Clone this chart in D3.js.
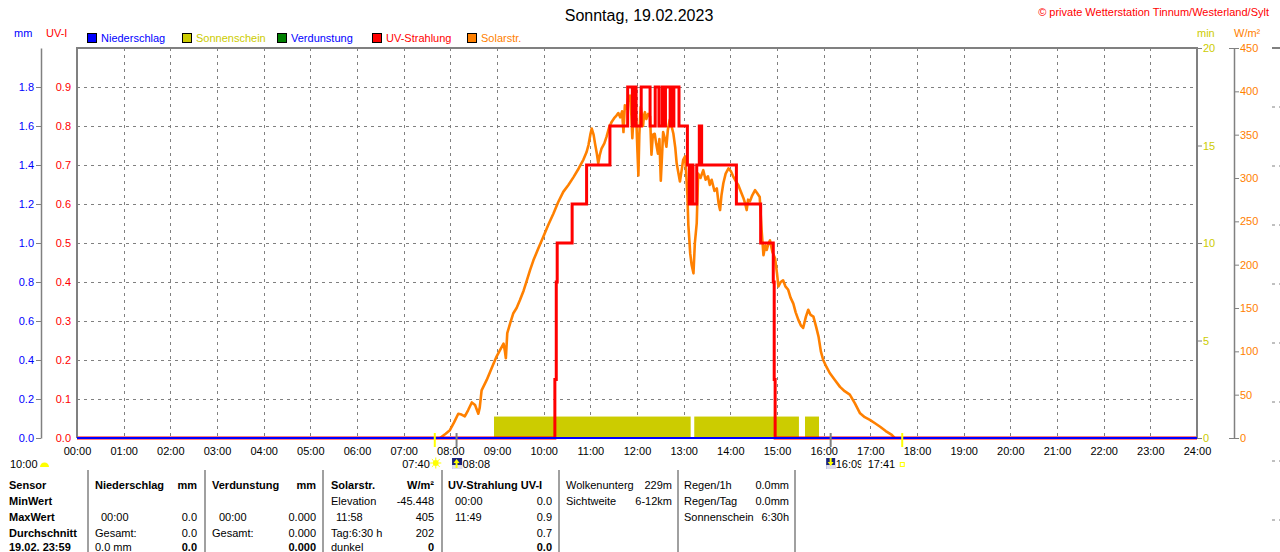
<!DOCTYPE html>
<html><head><meta charset="utf-8">
<script src="https://cdn.jsdelivr.net/npm/d3@7"></script>
<style>
html,body{margin:0;padding:0;background:#fff;overflow:hidden}
svg{display:block;font-family:"Liberation Sans",Arial,sans-serif}
</style></head>
<body><svg id="c" width="1280" height="552"></svg>
<script>
// ---------- DATA ----------
const title = "Sonntag, 19.02.2023";
const copyright = "\u00a9 private Wetterstation Tinnum/Westerland/Sylt";
const hourTicks = d3.range(0, 25);
const uvTicks = [0,0.1,0.2,0.3,0.4,0.5,0.6,0.7,0.8,0.9];
const mmTicks = [0,0.2,0.4,0.6,0.8,1.0,1.2,1.4,1.6,1.8];
const minTicks = [0,5,10,15,20];
const wTicks = [0,50,100,150,200,250,300,350,400,450];
const legendNames = ["Niederschlag","Sonnenschein","Verdunstung","UV-Strahlung","Solarstr."];
const legendBox   = ["#0000ff","#cccc00","#008000","#ff0000","#ff8000"];
const legendText  = ["#0000ff","#cccc00","#0000ff","#ff0000","#ff8000"];

// sunshine (minutes) segments: start hour, end hour, value
const sunStart = [8.936, 13.227, 15.600];
const sunEnd   = [13.150, 15.470, 15.900];
const sunValue = [1.1, 1.1, 1.1];

// UV index (step after)
const uvTime  = [0,10.24,10.27,10.29,10.61,10.92,11.42,11.80,11.90,11.94,11.98,12.09,12.28,12.39,12.47,12.54,12.59,12.61,12.71,12.74,12.76,12.79,12.90,13.08,13.12,13.18,13.20,13.28,13.335,13.385,14.13,14.65,14.92,14.94,14.96,24];
const uvValue = [0,0.15,0.4,0.5,0.6,0.7,0.8,0.9,0.8,0.9,0.8,0.9,0.8,0.9,0.8,0.9,0.8,0.9,0.8,0.9,0.8,0.9,0.8,0.7,0.6,0.7,0.6,0.7,0.8,0.7,0.6,0.5,0.4,0.15,0,0];

// solar radiation W/m²
const solarTime = [7.78,7.815,7.90,7.99,8.08,8.17,8.24,8.31,8.38,8.46,8.53,8.60,8.63,8.67,8.78,8.88,8.99,9.07,9.14,9.17,9.19,9.22,9.28,9.35,9.42,9.49,9.57,9.64,9.71,9.78,9.88,9.99,10.10,10.21,10.31,10.42,10.53,10.64,10.75,10.85,10.92,10.96,11.00,11.03,11.07,11.10,11.14,11.17,11.20,11.24,11.30,11.35,11.40,11.46,11.51,11.56,11.60,11.64,11.68,11.71,11.74,11.78,11.81,11.85,11.88,11.90,11.93,11.96,11.99,12.01,12.03,12.05,12.08,12.11,12.13,12.15,12.17,12.20,12.24,12.28,12.31,12.34,12.38,12.41,12.45,12.48,12.51,12.54,12.56,12.60,12.63,12.66,12.70,12.74,12.78,12.82,12.85,12.89,12.92,12.96,12.99,13.03,13.06,13.08,13.10,13.12,13.14,13.17,13.21,13.24,13.28,13.31,13.36,13.42,13.47,13.52,13.56,13.60,13.66,13.71,13.75,13.78,13.81,13.85,13.90,13.96,14.01,14.06,14.12,14.17,14.22,14.28,14.32,14.35,14.38,14.42,14.47,14.53,14.58,14.63,14.67,14.71,14.75,14.78,14.82,14.85,14.90,14.96,15.00,15.03,15.08,15.13,15.18,15.24,15.29,15.35,15.40,15.46,15.51,15.56,15.62,15.67,15.72,15.78,15.84,15.89,15.94,15.99,16.06,16.13,16.24,16.35,16.45,16.56,16.67,16.78,16.88,16.99,17.10,17.21,17.33,17.46,17.52];
const solarValue = [0,1.5,5,9,18,28,27,25,32,41,38,28,35,55,67,80,94,102,109,100,92,121,132,144,150,159,170,182,194,205,218,232,246,259,272,284,292,301,311,321,330,338,350,357,350,340,328,317,326,334,340,348,358,365,369,372,375,370,377,353,384,380,392,395,372,346,375,386,360,330,303,350,382,370,360,372,376,368,374,371,327,350,351,340,328,345,297,330,353,345,336,355,367,360,351,335,317,305,296,310,321,325,300,280,246,230,213,200,190,225,248,305,300,309,298,302,292,298,285,288,270,263,280,294,305,311,308,302,296,292,285,277,270,263,275,273,280,286,282,278,240,211,222,217,225,228,215,207,190,175,180,182,175,171,162,155,145,136,130,127,140,148,142,140,128,117,100,90,82,75,67,59,54,50,40,28.5,24,21,17,13,8,3.5,0];

// events below axis
const eventTimes = ["07:40","08:08","16:09","17:41"];
const eventKinds = ["sun","rise","set","sun"];
const leftNote = "10:00";

// table
const sensorRows = ["Sensor","MinWert","MaxWert","Durchschnitt","19.02. 23:59"];
const nsHeader = ["Niederschlag","mm"];
const nsLeft  = ["","","00:00","Gesamt:","0.0 mm"];
const nsRight = ["","","0.0","0.0","0.0"];
const vdHeader = ["Verdunstung","mm"];
const vdLeft  = ["","","00:00","Gesamt:",""];
const vdRight = ["","","0.000","0.000","0.000"];
const srHeader = ["Solarstr.","W/m\u00b2"];
const srLeft  = ["","Elevation","11:58","Tag:6:30 h","dunkel"];
const srRight = ["","-45.448","405","202","0"];
const uvHeader = ["UV-Strahlung UV-I",""];
const uvLeft  = ["","00:00","11:49","",""];
const uvRight = ["","0.0","0.9","0.7","0.0"];
const wkLeft  = ["Wolkenunterg","Sichtweite"];
const wkRight = ["229m","6-12km"];
const rgLeft  = ["Regen/1h","Regen/Tag","Sonnenschein"];
const rgRight = ["0.0mm","0.0mm","6:30h"];

// ---------- LAYOUT ----------
const L = 77, R = 1197, T = 48, B = 438;
const svg = d3.select("#c");
const x = d3.scaleLinear([0,24],[L,R]);
const yUV = d3.scaleLinear([0,1],[B,T]);
const yMM = d3.scaleLinear([0,2],[B,T]);
const yMin = d3.scaleLinear([0,20],[B,T]);
const yW = d3.scaleLinear([0,450],[B,T]);
const GRAY = "#808080";
const FS = 11;

// title
svg.append("text").attr("x",639).attr("y",21).attr("text-anchor","middle")
  .attr("font-size",16).attr("fill","#000").text(title);
svg.append("text").attr("x",1269).attr("y",16).attr("text-anchor","end")
  .attr("font-size",11).attr("fill","#ff0000").text(copyright);

// unit labels
svg.append("text").attr("x",14).attr("y",37).attr("font-size",FS).attr("fill","#0000ff").text("mm");
svg.append("text").attr("x",46).attr("y",37).attr("font-size",FS).attr("fill","#ff0000").text("UV-I");
svg.append("text").attr("x",1197).attr("y",37).attr("font-size",FS).attr("fill","#cccc00").text("min");
svg.append("text").attr("x",1234).attr("y",37).attr("font-size",FS).attr("fill","#ff8000").text("W/m\u00b2");

// legend
const legX = [87,182,277,372,467];
const lg = svg.append("g").selectAll("g").data(legendNames).join("g")
  .attr("transform",(d,i)=>`translate(${legX[i]},33)`);
lg.append("rect").attr("x",0.5).attr("y",0.5).attr("width",9).attr("height",9)
  .attr("fill",(d,i)=>legendBox[i]).attr("stroke","#000");
lg.append("text").attr("x",14).attr("y",9).attr("font-size",FS)
  .attr("fill",(d,i)=>legendText[i]).text(d=>d);

// grid
const grid = svg.append("g").attr("stroke",GRAY).attr("stroke-dasharray","3,4").attr("stroke-width",1);
grid.selectAll("line.h").data(uvTicks.filter(d=>d>0)).join("line")
  .attr("x1",L).attr("x2",R).attr("y1",d=>Math.round(yUV(d))+0.5).attr("y2",d=>Math.round(yUV(d))+0.5);
grid.selectAll("line.v").data(hourTicks.filter(d=>d>0&&d<24)).join("line")
  .attr("y1",T).attr("y2",B).attr("x1",d=>Math.round(x(d))+0.5).attr("x2",d=>Math.round(x(d))+0.5);

// sunshine bars
svg.append("g").selectAll("rect").data(sunStart).join("rect")
  .attr("x",(d)=>x(d)).attr("width",(d,i)=>x(sunEnd[i])-x(d))
  .attr("y",(d,i)=>yMin(sunValue[i])).attr("height",(d,i)=>B-yMin(sunValue[i]))
  .attr("fill","#cccc00");

// solar line
const solarData = solarTime.map((t,i)=>[t,solarValue[i]]);
svg.append("path").datum(solarData)
  .attr("d",d3.line().x(d=>x(d[0])).y(d=>yW(d[1])))
  .attr("fill","none").attr("stroke","#ff8000").attr("stroke-width",2.6).attr("stroke-linejoin","round");

// UV line
const uvData = uvTime.map((t,i)=>[t,uvValue[i]]);
svg.append("path").datum(uvData)
  .attr("d",d3.line().curve(d3.curveStepAfter).x(d=>x(d[0])).y(d=>yUV(d[1])))
  .attr("fill","none").attr("stroke","#ff0000").attr("stroke-width",3);

// frame
svg.append("path").attr("d",`M${L},${B}V${T}H${R}V${B}`).attr("fill","none")
  .attr("stroke",GRAY).attr("stroke-width",2);
// rain zero line
svg.append("line").attr("x1",L).attr("x2",R).attr("y1",yMM(0)).attr("y2",yMM(0))
  .attr("stroke","#0000ff").attr("stroke-width",2);

function styleAxis(g,color){
  g.selectAll(".domain").attr("stroke",GRAY).attr("stroke-width",1.5);
  g.selectAll(".tick line").attr("stroke",GRAY);
  g.selectAll("text").attr("fill",color).attr("font-size",FS).attr("font-family",null);
  g.attr("font-family",null);
}
// mm axis
const gmm = svg.append("g").attr("transform","translate(41,0)")
  .call(d3.axisLeft(yMM).tickValues(mmTicks).tickFormat(d3.format(".1f")).tickSize(5).tickSizeOuter(0).tickPadding(2));
styleAxis(gmm,"#0000ff");
// UV axis
const guv = svg.append("g").attr("transform",`translate(${L},0)`)
  .call(d3.axisLeft(yUV).tickValues(uvTicks).tickFormat(d3.format(".1f")).tickSize(0).tickPadding(6));
guv.select(".domain").remove();
styleAxis(guv,"#ff0000");
// x axis
const gx = svg.append("g").attr("transform",`translate(0,${B})`)
  .call(d3.axisBottom(x).tickValues(hourTicks).tickFormat(d=>String(d).padStart(2,"0")+":00").tickSize(0).tickPadding(9));
gx.select(".domain").remove();
styleAxis(gx,"#000");
// min axis
const gmin = svg.append("g").attr("transform",`translate(${R},0)`)
  .call(d3.axisRight(yMin).tickValues(minTicks).tickSize(5).tickSizeOuter(0).tickPadding(1));
gmin.select(".domain").remove();
styleAxis(gmin,"#cccc00");
// W axis
const gw = svg.append("g").attr("transform","translate(1234,0)")
  .call(d3.axisRight(yW).tickValues(wTicks).tickSize(5).tickSizeOuter(0).tickPadding(1));
styleAxis(gw,"#ff8000");
gw.selectAll(".tick").filter(d=>d===0||d===450).select("line").attr("x1",-5);

// clipped right-edge panel fragment
const edge = d3.scaleLinear([0,8],[T,520]);
svg.append("line").attr("x1",1272).attr("x2",1280).attr("y1",T).attr("y2",T).attr("stroke",GRAY).attr("stroke-width",2);
svg.append("g").selectAll("line").data(d3.range(1,9)).join("line")
  .attr("x1",1272).attr("x2",1280).attr("y1",d=>edge(d)).attr("y2",d=>edge(d))
  .attr("stroke",GRAY).attr("stroke-dasharray","3,4");

// events
const toH = s=>{const [h,m]=s.split(":").map(Number);return h+m/60;};
const ev = svg.append("g");
eventTimes.forEach((t,i)=>{
  const ex = x(toH(t));
  const k = eventKinds[i];
  ev.append("line").attr("x1",ex).attr("x2",ex).attr("y1",433).attr("y2",447)
    .attr("stroke",k==="sun"?"#ffff00":GRAY).attr("stroke-width",2);
});
// 10:00 note with half sun
svg.append("text").attr("x",10).attr("y",468).attr("font-size",FS).text(leftNote);
svg.append("path").attr("d","M40,467 A4.5,4.5 0 0 1 49,467 Z").attr("fill","#ffff00");
// 07:40 sun
{
  const ex = x(toH(eventTimes[0]));
  svg.append("text").attr("x",ex-5).attr("y",468).attr("text-anchor","end").attr("font-size",FS).text(eventTimes[0]);
  const cx = ex+1, cy=463;
  const sg = svg.append("g");
  d3.range(8).forEach(j=>{const a=j*Math.PI/4;
    sg.append("line").attr("x1",cx+3*Math.cos(a)).attr("y1",cy+3*Math.sin(a)).attr("x2",cx+5.5*Math.cos(a)).attr("y2",cy+5.5*Math.sin(a)).attr("stroke","#ffff00").attr("stroke-width",1);});
  sg.append("circle").attr("cx",cx).attr("cy",cy).attr("r",3).attr("fill","#ffff00");
}
// 08:08 rise icon
{
  const ex = x(toH(eventTimes[1]));
  svg.append("rect").attr("x",ex-4.5).attr("y",458).attr("width",10).attr("height",11).attr("fill","#1a237e");
  svg.append("rect").attr("x",ex-4.5).attr("y",465).attr("width",10).attr("height",4).attr("fill","#dde");
  svg.append("path").attr("d",`M${ex},459 l3,4 h-2 v5 h-2 v-5 h-2 z`).attr("fill","#ffff00");
  svg.append("text").attr("x",ex+6).attr("y",468).attr("font-size",FS).text(eventTimes[1]);
}
// 16:09 set icon & 17:41
{
  const ex = x(toH(eventTimes[2]));
  svg.append("rect").attr("x",ex-4.5).attr("y",458).attr("width",9).attr("height",11).attr("fill","#1a237e");
  svg.append("rect").attr("x",ex-4.5).attr("y",465).attr("width",9).attr("height",4).attr("fill","#dde");
  svg.append("path").attr("d",`M${ex-1},458 h2 v4 h2 l-3,4 l-3,-4 h2 z`).attr("fill","#ffff00");
  svg.append("text").attr("x",ex+5).attr("y",468).attr("font-size",FS).text(eventTimes[2]);
  const e2 = x(toH(eventTimes[3]));
  svg.append("rect").attr("x",e2-41).attr("y",457).attr("width",37).attr("height",13).attr("fill","#fff");
  svg.append("text").attr("x",e2-7).attr("y",468).attr("text-anchor","end").attr("font-size",FS).text(eventTimes[3]);
  svg.append("rect").attr("x",e2-2).attr("y",462.5).attr("width",4).attr("height",4).attr("fill","none").attr("stroke","#ffff00").attr("stroke-width",1);
}

// ---------- TABLE ----------
const rowY = [489,505,521,537,551];
const tb = svg.append("g").attr("font-size",FS);
[88,205,323,442,559,678,795].forEach(sx=>{
  tb.append("line").attr("x1",sx).attr("x2",sx).attr("y1",470).attr("y2",552).attr("stroke",GRAY).attr("stroke-width",1.5);
});
sensorRows.forEach((s,i)=>tb.append("text").attr("x",9).attr("y",rowY[i]).attr("font-weight","bold").text(s));
function col(header,left,right,lx,lx2,rx){
  tb.append("text").attr("x",lx).attr("y",rowY[0]).attr("font-weight","bold").text(header[0]);
  if(header[1]) tb.append("text").attr("x",rx).attr("y",rowY[0]).attr("text-anchor","end").attr("font-weight","bold").text(header[1]);
  left.forEach((s,i)=>{ if(i>0&&s) tb.append("text").attr("x",/^\d\d:\d\d$/.test(s)?lx2:lx).attr("y",rowY[i]).text(s);});
  right.forEach((s,i)=>{ if(i>0&&s) tb.append("text").attr("x",rx).attr("y",rowY[i]).attr("text-anchor","end").attr("font-weight",i===4?"bold":null).text(s);});
}
col(nsHeader,nsLeft,nsRight,95,101,197);
col(vdHeader,vdLeft,vdRight,212,219,316);
col(srHeader,srLeft,srRight,331,336,434);
col(uvHeader,uvLeft,uvRight,448,455,552);
wkLeft.forEach((s,i)=>{tb.append("text").attr("x",566).attr("y",rowY[i]).text(s);
  tb.append("text").attr("x",672).attr("y",rowY[i]).attr("text-anchor","end").text(wkRight[i]);});
rgLeft.forEach((s,i)=>{tb.append("text").attr("x",684).attr("y",rowY[i]).text(s);
  tb.append("text").attr("x",789).attr("y",rowY[i]).attr("text-anchor","end").text(rgRight[i]);});
</script></body></html>
